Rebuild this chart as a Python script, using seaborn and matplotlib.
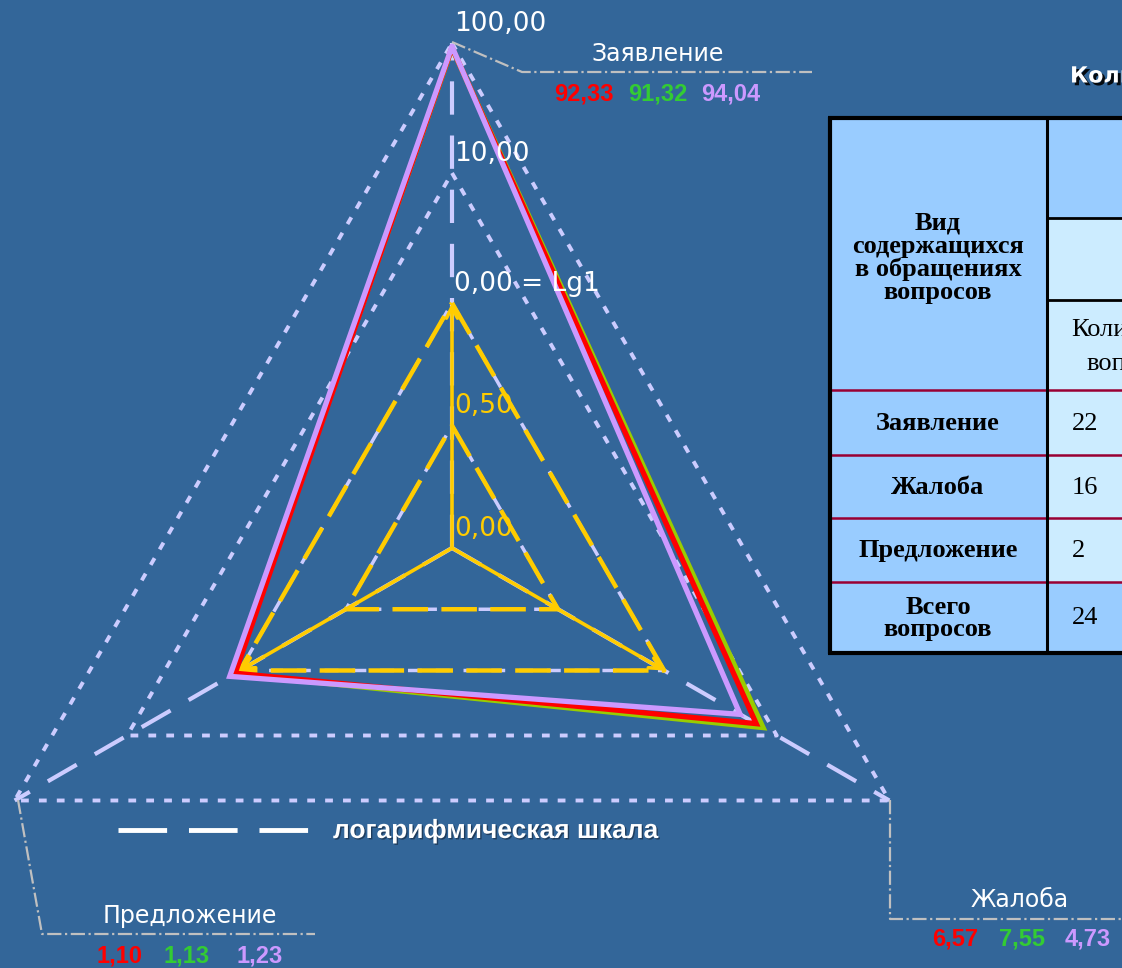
import numpy as np
import pandas as pd
import matplotlib.pyplot as plt
import matplotlib.patheffects as pe
from matplotlib.patches import Rectangle
import seaborn as sns

# категории (оси лепестковой диаграммы)
categories = ['Заявление', 'Жалоба', 'Предложение']
angles = [90, -30, 210]

# доли вопросов, %
series_names = ['красный', 'зелёный', 'сиреневый']
vals_red = [92.33, 6.57, 1.10]
vals_green = [91.32, 7.55, 1.13]
vals_lilac = [94.04, 4.73, 1.23]

line_colors = ['#FF0000', '#99CC00', '#CC99FF']
text_colors = ['#FF0000', '#33CC33', '#CC99FF']

# шкала
tick_vals = [100, 10, 1, 0.5, 0]
tick_labels = ['100,00', '10,00', '0,00 = Lg1', '0,50', '0,00']
tick_colors = ['white', 'white', 'white', '#FFCC00', '#FFCC00']

# таблица справа
table_rows = ['Заявление', 'Жалоба', 'Предложение', 'Всего\nвопросов']
table_counts = ['22', '16', '2', '24']

BG = '#336699'
GRID = '#CCCCFF'


def radius(v):
    # 0..1 линейно, дальше логарифм
    if v <= 1:
        return 245 * v
    return 245 + 130 * np.log10(v)


def xy(v, ang):
    r = radius(v)
    a = np.radians(ang)
    return r * np.cos(a), r * np.sin(a)


def P(px, py):
    # координаты картинки -> координаты осей (центр диаграммы в нуле)
    return px - 452, 548 - py


sns.set_style('white')
plt.rcParams['font.family'] = ['DejaVu Sans']

fig = plt.figure(figsize=(11.22, 9.68), dpi=100)
fig.patch.set_facecolor(BG)
ax = fig.add_axes([0, 0, 1, 1])
ax.set_facecolor(BG)
ax.set_xlim(-452, 670)
ax.set_ylim(-420, 548)
ax.axis('off')


def triangle(level):
    pts = [xy(level, a) for a in angles]
    pts.append(pts[0])
    return [p[0] for p in pts], [p[1] for p in pts]


# сетка: логарифмические уровни (точки)
for lv in [10, 100]:
    tx, ty = triangle(lv)
    ax.plot(tx, ty, color=GRID, lw=2.8, ls=(0, (2.0, 2.6)), zorder=1)

# линейные уровни 0..1 (жёлтые штрихи поверх белых)
for lv in [0.5, 1]:
    tx, ty = triangle(lv)
    ax.plot(tx, ty, color=GRID, lw=2.5, ls=(0, (4, 4)), zorder=1)
    ax.plot(tx, ty, color='#FFCC00', lw=3.2, ls=(0, (8, 3)), zorder=2)

# оси-лучи (логарифмическая шкала)
for a in angles:
    ex, ey = xy(100, a)
    ax.plot([0, ex], [0, ey], color=GRID, lw=3, ls=(0, (8, 5)), zorder=1)
    yx, yy = xy(1, a)
    ax.annotate('', xy=(yx, yy), xytext=(0, 0),
                arrowprops=dict(arrowstyle='->', color='#FFCC00', lw=2.6,
                                mutation_scale=20, shrinkA=0, shrinkB=0),
                zorder=3)

# данные
rows = []
for name, vals in zip(series_names, [vals_red, vals_green, vals_lilac]):
    for i, (v, a) in enumerate(list(zip(vals, angles)) + [(vals[0], angles[0])]):
        x, y = xy(v, a)
        rows.append({'series': name, 'order': i, 'x': x, 'y': y})
df = pd.DataFrame(rows)

draw_order = ['зелёный', 'красный', 'сиреневый']
pal = dict(zip(series_names, line_colors))
for name in draw_order:
    sns.lineplot(data=df[df['series'] == name], x='x', y='y', color=pal[name],
                 sort=False, estimator=None, lw=3.8, ax=ax, legend=False,
                 solid_joinstyle='miter', zorder=4)

# подписи шкалы
for v, lab, c in zip(tick_vals, tick_labels, tick_colors):
    _, ty = xy(v, 90)
    ax.text(2, ty + 19, lab, color=c, fontsize=19, ha='left', va='center', zorder=6)

# выноски категорий
callouts = [
    [(452, 42), (522, 72), (812, 72)],
    [(890, 800), (890, 919), (1122, 919)],
    [(18, 800), (42, 934), (315, 934)],
]
for pts in callouts:
    cx, cy = zip(*[P(*p) for p in pts])
    ax.plot(cx, cy, color='#C0C0C0', lw=1.6, ls='-.', zorder=1)

cat_label_pos = [(658, 54), (1020, 900), (190, 916)]
val_label_pos = [
    [(584, 94), (658, 94), (731, 94)],
    [(955, 939), (1022, 939), (1088, 939)],
    [(119, 956), (187, 956), (260, 956)],
]
all_vals = [vals_red, vals_green, vals_lilac]
for k, cat in enumerate(categories):
    ax.text(*P(*cat_label_pos[k]), cat, color='white', fontsize=17, ha='center', va='center')
    for s in range(3):
        txt = f'{all_vals[s][k]:.2f}'.replace('.', ',')
        ax.text(*P(*val_label_pos[k][s]), txt, color=text_colors[s], fontsize=17,
                fontweight='bold', family='Liberation Sans', ha='center', va='center')

# легенда
lx0, ly = P(118, 830)
lx1, _ = P(312, 830)
ax.plot([lx0, lx1], [ly, ly], color='white', lw=3.5, ls=(0, (10, 4.5)), solid_capstyle='butt')
ax.text(*P(333, 831), 'логарифмическая шкала', color='white', fontsize=19,
        fontweight='bold', family='Liberation Sans', ha='left', va='center',
        path_effects=[pe.withSimplePatchShadow(offset=(1, -1), shadow_rgbFace='#1a3350', alpha=0.8)])

# заголовок таблицы (обрезан краем слайда)
ax.text(*P(1070, 76), 'Количество обращений', color='white', fontsize=16,
        fontweight='bold', family='DejaVu Sans', ha='left', va='center',
        path_effects=[pe.withSimplePatchShadow(offset=(2, -2), shadow_rgbFace='black', alpha=0.9)])


# таблица
def rect(px0, py0, px1, py1, fc):
    x0, y1 = P(px0, py0)
    x1, y0 = P(px1, py1)
    ax.add_patch(Rectangle((x0, y0), x1 - x0, y1 - y0, facecolor=fc,
                           edgecolor='none', zorder=7))


def hline(px0, px1, py, c, lw):
    x0, y = P(px0, py)
    x1, _ = P(px1, py)
    ax.plot([x0, x1], [y, y], color=c, lw=lw, zorder=8, solid_capstyle='butt')


def vline(px, py0, py1, c, lw):
    x, y0 = P(px, py0)
    _, y1 = P(px, py1)
    ax.plot([x, x], [y0, y1], color=c, lw=lw, zorder=8, solid_capstyle='butt')


DARK = '#99CCFF'
LIGHT = '#CCECFF'
row_edges = [390, 455, 518, 582, 653]
rect(830, 118, 1047, 653, DARK)
rect(1047, 118, 1130, 218, DARK)
rect(1047, 218, 1130, 582, LIGHT)
rect(1047, 582, 1130, 653, DARK)
for yb in row_edges[:-1]:
    hline(830, 1130, yb, '#990033', 1.8)
hline(1047, 1130, 218, 'black', 2)
hline(1047, 1130, 300, 'black', 2)
vline(1047, 118, 653, 'black', 2.2)
hline(828, 1130, 118, 'black', 3)
hline(828, 1130, 653, 'black', 3)
vline(830, 117, 654, 'black', 3)

tfont = dict(family='Liberation Serif', color='black', zorder=9, va='center')
ax.text(*P(938, 258), 'Вид\nсодержащихся\nв обращениях\nвопросов', ha='center',
        fontsize=19, fontweight='bold', linespacing=1.0, **tfont)
for i, lab in enumerate(table_rows):
    yc = (row_edges[i] + row_edges[i + 1]) / 2
    ax.text(*P(938, yc + 1), lab, ha='center', fontsize=19, fontweight='bold',
            linespacing=0.95, **tfont)
    ax.text(*P(1072, yc + 1), table_counts[i], ha='left', fontsize=19, **tfont)
ax.text(*P(1071, 330), 'Количество', ha='left', fontsize=19, **tfont)
ax.text(*P(1086, 364), 'вопросов', ha='left', fontsize=19, **tfont)

fig.savefig('out.png', dpi=100, facecolor=BG)
